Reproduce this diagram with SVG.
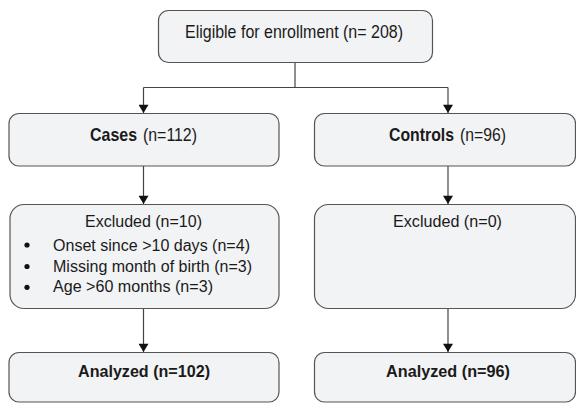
<svg xmlns="http://www.w3.org/2000/svg" width="576" height="403" viewBox="0 0 576 403">
<defs>
<style>
.box{fill:#f2f3f5;stroke:#555;stroke-width:1.2}
.t{font-family:"Liberation Sans",Arial,sans-serif;font-size:17px;fill:#1a1a1a}
.l{font-size:18.5px}
.s{font-size:16px}
.b{font-weight:bold}
.c{fill:none;stroke:#444;stroke-width:1.2}
</style>
<marker id="ah" viewBox="0 0 10 12" refX="10" refY="6" markerWidth="12" markerHeight="10" markerUnits="userSpaceOnUse" orient="auto">
<path d="M0,0 L10,6 L0,12 Z" fill="#111"/>
</marker>
</defs>
<rect width="576" height="403" fill="#fff"/>
<g id="connectors">
<path class="c" d="M295,62 V87.5"/>
<path class="c" d="M143.5,87.5 H448"/>
<path class="c" d="M143.5,87.5 V113" marker-end="url(#ah)"/>
<path class="c" d="M448,87.5 V113" marker-end="url(#ah)"/>
<path class="c" d="M143.5,166 V204" marker-end="url(#ah)"/>
<path class="c" d="M448,166 V204" marker-end="url(#ah)"/>
<path class="c" d="M143.5,309 V352" marker-end="url(#ah)"/>
<path class="c" d="M448,309 V352" marker-end="url(#ah)"/>
</g>
<g id="eligible">
<rect class="box" x="158.5" y="10.5" width="274" height="52" rx="10"/>
<text class="t l" x="185" y="38.3" textLength="218" lengthAdjust="spacingAndGlyphs">Eligible for enrollment (n= 208)</text>
</g>
<g id="cases">
<rect class="box" x="9" y="113.5" width="270" height="52.5" rx="10"/>
<text class="t l b" x="90" y="141" textLength="47" lengthAdjust="spacingAndGlyphs">Cases</text>
<text class="t l" x="143" y="141" textLength="54" lengthAdjust="spacingAndGlyphs">(n=112)</text>
</g>
<g id="controls">
<rect class="box" x="314.5" y="113.5" width="261" height="52.5" rx="10"/>
<text class="t l b" x="389" y="141" textLength="65" lengthAdjust="spacingAndGlyphs">Controls</text>
<text class="t l" x="460" y="141" textLength="46" lengthAdjust="spacingAndGlyphs">(n=96)</text>
</g>
<g id="excluded-cases">
<rect class="box" x="10" y="204.5" width="269" height="104" rx="14"/>
<text class="t" x="85" y="227" textLength="117" lengthAdjust="spacingAndGlyphs">Excluded (n=10)</text>
<circle cx="27" cy="245" r="2.6" fill="#111"/>
<text class="t s" x="53" y="250.5" textLength="197" lengthAdjust="spacingAndGlyphs">Onset since &gt;10 days (n=4)</text>
<circle cx="27" cy="266.5" r="2.6" fill="#111"/>
<text class="t s" x="53" y="271.7" textLength="199" lengthAdjust="spacingAndGlyphs">Missing month of birth (n=3)</text>
<circle cx="27" cy="287.3" r="2.6" fill="#111"/>
<text class="t s" x="53" y="291.7" textLength="160" lengthAdjust="spacingAndGlyphs">Age &gt;60 months (n=3)</text>
</g>
<g id="excluded-controls">
<rect class="box" x="314.5" y="204.5" width="261" height="104" rx="14"/>
<text class="t" x="393" y="227" textLength="109" lengthAdjust="spacingAndGlyphs">Excluded (n=0)</text>
</g>
<g id="analyzed-cases">
<rect class="box" x="9" y="352.5" width="270" height="49.5" rx="10"/>
<text class="t b" x="78" y="377" textLength="132" lengthAdjust="spacingAndGlyphs">Analyzed (n=102)</text>
</g>
<g id="analyzed-controls">
<rect class="box" x="314.5" y="352.5" width="261" height="49.5" rx="10"/>
<text class="t b" x="386" y="377" textLength="124" lengthAdjust="spacingAndGlyphs">Analyzed (n=96)</text>
</g>
</svg>
